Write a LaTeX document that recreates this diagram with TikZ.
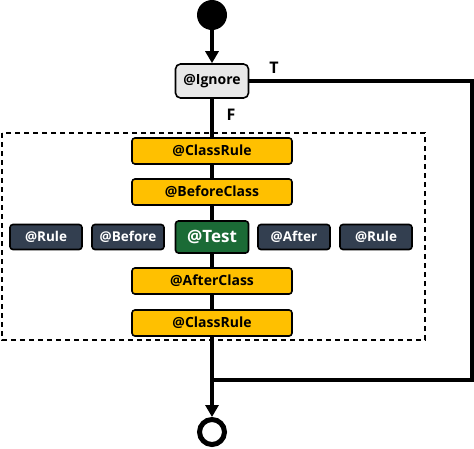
\documentclass[tikz,border=0pt]{standalone}
\usepackage{fontspec}
\setmainfont{Open Sans}
\usetikzlibrary{arrows.meta}
\definecolor{classyellow}{HTML}{FFC000}
\definecolor{ruleslate}{HTML}{333F50}
\definecolor{testgreen}{HTML}{1B6B36}
\definecolor{ignoregray}{HTML}{E8E8E8}

\begin{document}
\begin{tikzpicture}[x=1pt,y=-1pt,
  box/.style={draw=black,line width=1.6pt,rounded corners=3pt,inner sep=0pt,
    font=\bfseries\fontsize{14}{16}\selectfont},
  classbox/.style={box,fill=classyellow,minimum width=160pt,minimum height=26pt},
  rulebox/.style={box,fill=ruleslate,text=white,minimum width=72pt,minimum height=25pt,
    font=\bfseries\fontsize{13.5}{16}\selectfont},
  flow/.style={line width=4.5pt},
  flowarrow/.style={flow,-{Triangle[length=12pt,width=13pt]}},
  lbl/.style={font=\bfseries\fontsize{16}{18}\selectfont}]
  \useasboundingbox (0,0) rectangle (474,448);

  \node[circle,fill=black,minimum size=30pt,inner sep=0pt] (start) at (212,15) {};
  \node[box,fill=ignoregray,minimum width=73pt,minimum height=34pt,rounded corners=5pt,
    font=\bfseries\fontsize{14}{16}\selectfont] (ignore) at (212,81) {@Ignore};
  \node[lbl] (t) at (274,68) {T};
  \node[lbl] (f) at (231,115) {F};

  \draw[dashed,line width=1.3pt,dash pattern=on 5pt off 4pt] (2,133) rectangle (425,340);

  \node[classbox] (cr1) at (212,151) {@ClassRule};
  \node[classbox] (bc) at (212,192) {@BeforeClass};
  \node[rulebox] (r1) at (46,237) {@Rule};
  \node[rulebox] (b) at (128,237) {@Before};
  \node[box,fill=testgreen,text=white,minimum width=73pt,minimum height=32pt,
    font=\bfseries\fontsize{17}{19}\selectfont] (test) at (212,237) {@Test};
  \node[rulebox] (a) at (294,237) {@After};
  \node[rulebox] (r2) at (376,237) {@Rule};
  \node[classbox] (ac) at (212,281) {@AfterClass};
  \node[classbox] (cr2) at (212,323) {@ClassRule};

  \coordinate (join) at (212,380);
  \node[circle,draw=black,line width=5pt,fill=white,minimum size=25pt,inner sep=0pt] (stop) at (212,432) {};

  \draw[flowarrow] (start) -- (ignore);
  \draw[flow] (ignore) -- (cr1);
  \draw[flow] (cr1) -- (bc);
  \draw[flow] (bc) -- (test);
  \draw[flow] (test) -- (ac);
  \draw[flow] (ac) -- (cr2);
  \draw[flow] (ignore.east) -| (472,380) -- (join);
  \draw[flowarrow] (cr2) -- (stop);
\end{tikzpicture}
\end{document}
